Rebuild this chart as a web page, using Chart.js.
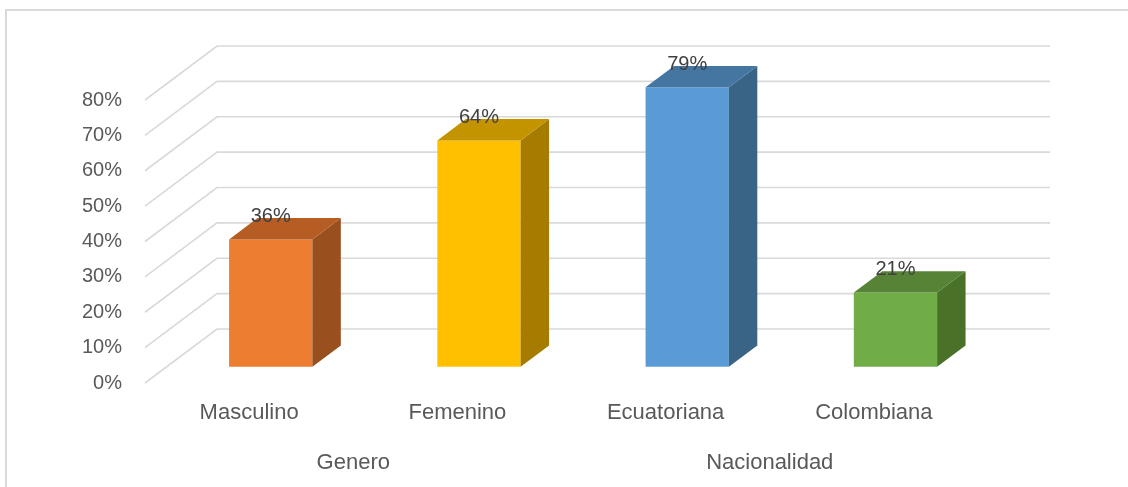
<!DOCTYPE html>
<html>
<head>
<meta charset="utf-8">
<script src="https://cdn.jsdelivr.net/npm/chart.js@4.4.1/dist/chart.umd.min.js"></script>
<style>
  html, body { margin: 0; padding: 0; background: #fff; }
  #wrap { position: relative; width: 1128px; height: 487px; }
  #frame { position: absolute; left: 5px; top: 9px; right: -10px; bottom: -10px; border: 2px solid #d9d9d9; }
</style>
</head>
<body>
<div id="wrap">
  <div id="frame"></div>
  <canvas id="chart" width="1128" height="487"></canvas>
</div>
<script>
const categories = ["Masculino", "Femenino", "Ecuatoriana", "Colombiana"];
const groups = ["Genero", "Nacionalidad"];
const values = [0.36, 0.64, 0.79, 0.21];
const frontColors = ["#ED7D31", "#FFC000", "#5B9BD5", "#70AD47"];
const sideColors = ["#9A4F1E", "#A67C00", "#3A6486", "#4A7128"];
const topColors = ["#B55D23", "#C49300", "#4575A1", "#578336"];

// 3D depth of the floor / walls (pixels)
const DEPTH_X = 72;
const DEPTH_Y = -54;
const BAR_FRONT = 0.3;   // bar front face sits at 30% of the depth
const BAR_DEPTH = 0.395; // bar depth as fraction of floor depth

function shift(f) {
  return { x: DEPTH_X * f, y: DEPTH_Y * f };
}

const gridPlugin = {
  id: "grid3d",
  beforeDatasetsDraw(chart) {
    const ctx = chart.ctx;
    const y = chart.scales.y;
    const area = chart.chartArea;
    ctx.save();
    ctx.strokeStyle = "#d9d9d9";
    ctx.lineWidth = 1.6;
    y.ticks.forEach(t => {
      const py = y.getPixelForValue(t.value);
      ctx.beginPath();
      ctx.moveTo(area.left, py);
      ctx.lineTo(area.left + DEPTH_X, py + DEPTH_Y);
      ctx.lineTo(area.right + DEPTH_X, py + DEPTH_Y);
      ctx.stroke();
    });
    ctx.restore();

    // move bars back into the floor
    const s = shift(BAR_FRONT);
    ctx.save();
    ctx.translate(s.x, s.y);
  },
  afterDatasetsDraw(chart) {
    const ctx = chart.ctx;
    const meta = chart.getDatasetMeta(0);
    const d = shift(BAR_DEPTH);
    meta.data.forEach((bar, i) => {
      const p = bar.getProps(["x", "y", "base", "width"], true);
      const l = p.x - p.width / 2, r = p.x + p.width / 2;
      // side face
      ctx.fillStyle = sideColors[i];
      ctx.beginPath();
      ctx.moveTo(r, p.base);
      ctx.lineTo(r + d.x, p.base + d.y);
      ctx.lineTo(r + d.x, p.y + d.y);
      ctx.lineTo(r, p.y);
      ctx.closePath();
      ctx.fill();
      // top face
      ctx.fillStyle = topColors[i];
      ctx.beginPath();
      ctx.moveTo(l, p.y);
      ctx.lineTo(l + d.x, p.y + d.y);
      ctx.lineTo(r + d.x, p.y + d.y);
      ctx.lineTo(r, p.y);
      ctx.closePath();
      ctx.fill();
      // value label
      ctx.fillStyle = "#404040";
      ctx.font = "20px 'Liberation Sans', Arial, sans-serif";
      ctx.textAlign = "center";
      ctx.textBaseline = "alphabetic";
      ctx.fillText(Math.round(values[i] * 100) + "%", p.x, p.y + d.y + 4);
    });
    ctx.restore();
  }
};

new Chart(document.getElementById("chart"), {
  type: "bar",
  data: {
    labels: categories,
    datasets: [{
      data: values,
      backgroundColor: frontColors,
      borderWidth: 0,
      barPercentage: 0.4,
      categoryPercentage: 1,
      clip: false,
      xAxisID: "x",
      yAxisID: "y"
    }]
  },
  options: {
    responsive: false,
    animation: false,
    layout: { padding: { left: 10, right: 150, top: 100, bottom: 4 } },
    plugins: { legend: { display: false }, tooltip: { enabled: false } },
    scales: {
      y: {
        min: 0,
        max: 0.8,
        border: { display: false },
        grid: { display: false },
        ticks: {
          stepSize: 0.1,
          padding: 15,
          color: "#595959",
          font: { family: "'Liberation Sans', Arial, sans-serif", size: 20 },
          callback: v => Math.round(v * 100) + "%"
        },
        afterFit(scale) { scale.width = 135; }
      },
      x: {
        position: "bottom",
        weight: 0,
        border: { display: false },
        grid: { display: false, drawTicks: false },
        ticks: {
          padding: 17,
          color: "#595959",
          font: { family: "'Liberation Sans', Arial, sans-serif", size: 22 }
        },
        afterFit(scale) { scale.height = 50; }
      },
      group: {
        type: "category",
        labels: groups,
        position: "bottom",
        weight: 1,
        border: { display: false },
        grid: { display: false, drawTicks: false },
        ticks: {
          padding: 17,
          color: "#595959",
          font: { family: "'Liberation Sans', Arial, sans-serif", size: 22 }
        },
        afterFit(scale) { scale.height = 50; }
      }
    }
  },
  plugins: [gridPlugin]
});
</script>
</body>
</html>
